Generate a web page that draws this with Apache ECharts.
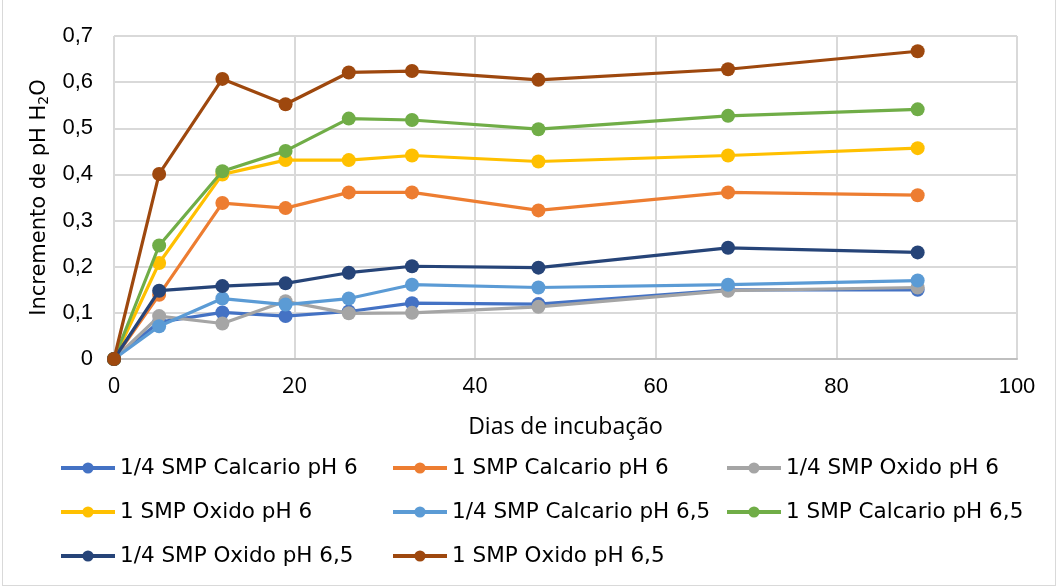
<!DOCTYPE html>
<html>
<head>
<meta charset="utf-8">
<script src="https://cdn.jsdelivr.net/npm/echarts@6/dist/echarts.min.js"></script>
<style>
  html, body { margin: 0; padding: 0; background: #fff; }
  #frame { position: absolute; left: 2px; top: 0px; width: 1054px; height: 586px; border: 1px solid #d9d9d9; border-top: none; box-sizing: border-box; }
  #chart { position: absolute; left: 0; top: 0; width: 1059px; height: 588px; }
</style>
</head>
<body>
<div id="frame"></div>
<div id="chart"></div>
<script>
const days = [0, 5, 12, 19, 26, 33, 47, 68, 89];
const seriesNames = [
  '1/4 SMP Calcario pH 6',
  '1 SMP Calcario pH 6',
  '1/4 SMP Oxido pH 6',
  '1 SMP Oxido pH 6',
  '1/4 SMP Calcario pH 6,5',
  '1 SMP Calcario pH 6,5',
  '1/4 SMP Oxido pH 6,5',
  '1 SMP Oxido pH 6,5'
];
const qCalc6  = [0, 0.080, 0.101, 0.093, 0.103, 0.121, 0.119, 0.150, 0.150];
const oneCalc6 = [0, 0.139, 0.338, 0.327, 0.361, 0.361, 0.322, 0.361, 0.355];
const qOx6    = [0, 0.093, 0.077, 0.125, 0.099, 0.100, 0.113, 0.148, 0.155];
const oneOx6  = [0, 0.208, 0.400, 0.431, 0.431, 0.441, 0.428, 0.441, 0.457];
const qCalc65 = [0, 0.071, 0.131, 0.118, 0.131, 0.161, 0.155, 0.161, 0.170];
const oneCalc65 = [0, 0.246, 0.407, 0.451, 0.521, 0.518, 0.498, 0.527, 0.541];
const qOx65   = [0, 0.148, 0.158, 0.164, 0.187, 0.201, 0.198, 0.241, 0.231];
const oneOx65 = [0, 0.401, 0.607, 0.552, 0.621, 0.624, 0.605, 0.628, 0.667];
const yTicks = ['0', '0,1', '0,2', '0,3', '0,4', '0,5', '0,6', '0,7'];
const xTicks = ['0', '20', '40', '60', '80', '100'];

const values = [qCalc6, oneCalc6, qOx6, oneOx6, qCalc65, oneCalc65, qOx65, oneOx65];
const colors = ['#4472C4', '#ED7D31', '#A5A5A5', '#FFC000', '#5B9BD5', '#70AD47', '#264478', '#9E480E'];

const chart = echarts.init(document.getElementById('chart'));
const series = values.map((v, i) => ({
  name: seriesNames[i],
  type: 'line',
  data: v.map((y, k) => [days[k], y]),
  symbol: 'circle',
  symbolSize: 14,
  lineStyle: { width: 3.2, color: colors[i] },
  itemStyle: { color: colors[i] },
  z: 2 + i
}));

function legendCol(left, idx) {
  return {
    orient: 'vertical',
    left: left,
    top: 452,
    itemGap: 22,
    itemWidth: 54,
    itemHeight: 14,
    lineStyle: { width: 4 },
    data: idx.map(i => seriesNames[i]),
    textStyle: { fontFamily: 'DejaVu Sans', fontSize: 21.5, color: '#000' }
  };
}

chart.setOption({
  animation: false,
  color: colors,
  grid: { left: 114, right: 42, top: 36, bottom: 229, containLabel: false },
  xAxis: {
    type: 'value', min: 0, max: 100, interval: 20,
    axisLine: { show: true, lineStyle: { color: '#bfbfbf', width: 2 } },
    axisTick: { show: false },
    splitLine: { show: true, lineStyle: { color: '#d9d9d9', width: 2 } },
    axisLabel: {
      margin: 17, color: '#000',
      formatter: v => {
        const i = Math.round(v / 20);
        return i < 3 ? '{a|' + xTicks[i] + '}' : '{b|' + xTicks[i] + '}';
      },
      rich: {
        a: { fontFamily: 'Open Sans', fontSize: 22, color: '#000' },
        b: { fontFamily: 'Liberation Sans', fontSize: 22, color: '#000' }
      }
    },
    name: 'Dias de incubação',
    nameLocation: 'middle',
    nameGap: 57,
    nameTextStyle: { fontSize: 23, color: '#000', fontFamily: 'Open Sans' }
  },
  yAxis: {
    type: 'value', min: 0, max: 0.7, interval: 0.1,
    axisLine: { show: false },
    axisTick: { show: false },
    splitLine: { show: true, lineStyle: { color: '#d9d9d9', width: 2 } },
    axisLabel: {
      margin: 21, fontSize: 22, color: '#000', fontFamily: 'Liberation Sans',
      formatter: v => yTicks[Math.round(v * 10)]
    },
    name: '{a|Incremento de pH H}{s|2}{a|O}',
    nameLocation: 'middle',
    nameGap: 60,
    nameRotate: 90,
    nameTextStyle: {
      rich: {
        a: { fontSize: 21, color: '#000', fontFamily: 'DejaVu Sans', lineHeight: 24 },
        s: { fontSize: 14, color: '#000', fontFamily: 'DejaVu Sans', verticalAlign: 'bottom', lineHeight: 24, padding: [10, 0, 0, 0] }
      }
    }
  },
  legend: [legendCol(54, [0, 3, 6]), legendCol(386, [1, 4, 7]), legendCol(720, [2, 5])],
  series: series
});
</script>
</body>
</html>
